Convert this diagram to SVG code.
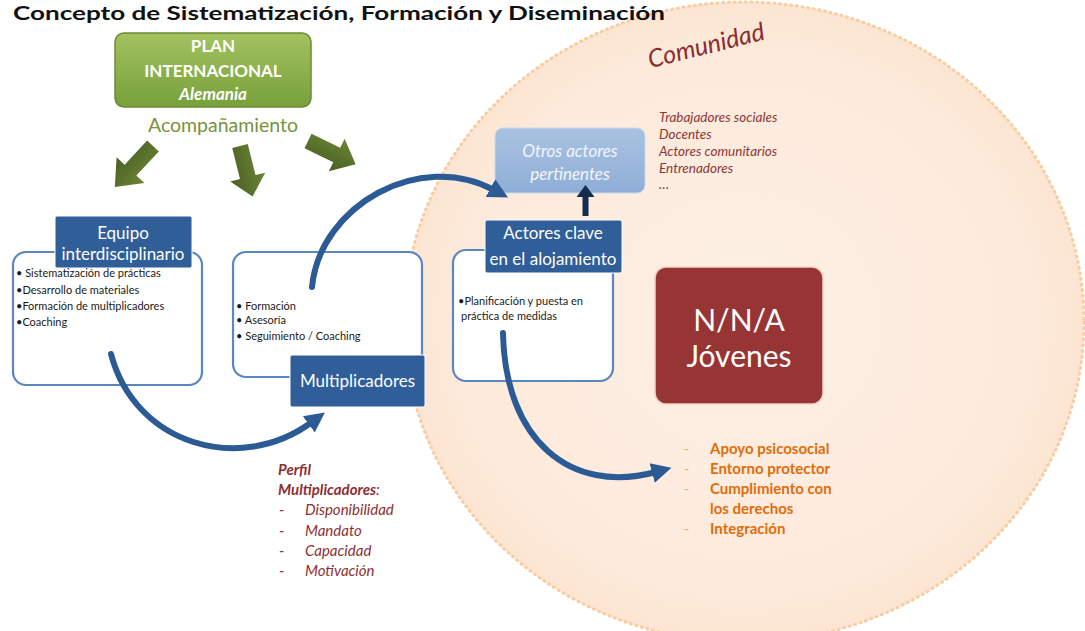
<svg xmlns="http://www.w3.org/2000/svg" width="1085" height="631" viewBox="0 0 1085 631">
<defs>
<style>
text{font-family:Lato,"Open Sans","Liberation Sans",sans-serif}
.bul{font-size:11px;fill:#1a1a1a}
.wt{fill:#ffffff;text-anchor:middle}
.frame{fill:#ffffff;stroke:#5b86bf;stroke-width:2.2}
.dbox{fill:#2f5e98;stroke:#ffffff;stroke-width:1}
.curve{fill:none;stroke:#2c5a94;stroke-width:6;stroke-linecap:round}
.comm{font-size:13.5px;font-style:italic;fill:#8e3535}
.or{font-size:15px;font-weight:bold;fill:#e36c0a}
.ordash{font-size:14px;fill:#f2a66a}
.pf{font-size:15px;font-style:italic;fill:#8e2f32}
.garrow{fill:url(#gArr)}
</style>
<radialGradient id="gComm" cx="0.5" cy="0.5" r="0.5">
<stop offset="0" stop-color="#fdf0e5"/>
<stop offset="0.85" stop-color="#fdeadb"/>
<stop offset="1" stop-color="#fce5d2"/>
</radialGradient>
<linearGradient id="gGreen" x1="0" y1="0" x2="0" y2="1">
<stop offset="0" stop-color="#a3c35f"/>
<stop offset="1" stop-color="#77a03a"/>
</linearGradient>
<linearGradient id="gArr" x1="0" y1="0" x2="0" y2="1">
<stop offset="0" stop-color="#6b8535"/>
<stop offset="1" stop-color="#4a5f25"/>
</linearGradient>
<linearGradient id="gOtros" x1="0" y1="0" x2="0" y2="1">
<stop offset="0" stop-color="#a9c2e1"/>
<stop offset="1" stop-color="#8faed6"/>
</linearGradient>
<marker id="mBlue" markerUnits="userSpaceOnUse" markerWidth="22" markerHeight="22" refX="4" refY="10" orient="auto" viewBox="0 0 22 20">
<path d="M0,0 L20,10 L0,20 Z" fill="#2c5a94"/>
</marker>
</defs>

<rect width="1085" height="631" fill="#ffffff"/>

<g id="comunidad">
<ellipse cx="744" cy="322" rx="340" ry="320" fill="url(#gComm)" stroke="#f8cda2" stroke-width="3" stroke-dasharray="1.2 4.5" stroke-linecap="round"/>
<text x="706" y="54" transform="rotate(-14 706 45)" text-anchor="middle" font-size="25" font-style="italic" fill="#8b2c2e">Comunidad</text>
</g>

<text id="title" x="13" y="20" font-size="19" font-weight="bold" fill="#111" textLength="652" lengthAdjust="spacingAndGlyphs">Concepto de Sistematización, Formación y Diseminación</text>

<g id="plan">
<rect x="115" y="33" width="196" height="74" rx="9" fill="url(#gGreen)" stroke="#6c8a3a" stroke-width="1.5"/>
<text class="wt" x="213" y="52" font-size="17" font-weight="bold">PLAN</text>
<text class="wt" x="213" y="77" font-size="17" font-weight="bold">INTERNACIONAL</text>
<text class="wt" x="213" y="100" font-size="17" font-weight="bold" font-style="italic">Alemania</text>
<text x="223" y="132" text-anchor="middle" font-size="19.5" fill="#77933c">Acompañamiento</text>
</g>

<g id="green-arrows">
<polygon class="garrow" points="0,-8 33,-8 33,-19 56,0 33,19 33,8 0,8" transform="translate(153,146) rotate(133)"/>
<polygon class="garrow" points="0,-8 32,-8 32,-18 52,0 32,18 32,8 0,8" transform="translate(240,146) rotate(76)"/>
<polygon class="garrow" points="0,-8 32,-8 32,-18 53,0 32,18 32,8 0,8" transform="translate(308,141) rotate(26)"/>
</g>

<g id="equipo">
<rect class="frame" x="13" y="252" width="189" height="133" rx="13"/>
<rect class="dbox" x="55" y="216" width="137" height="52" rx="2"/>
<text class="wt" x="123" y="239" font-size="17">Equipo</text>
<text class="wt" x="123" y="260" font-size="17">interdisciplinario</text>
<text class="bul" x="16" y="277">• Sistematización de prácticas</text>
<text class="bul" x="16" y="294">•Desarrollo de materiales</text>
<text class="bul" x="16" y="310">•Formación de multiplicadores</text>
<text class="bul" x="16" y="326">•Coaching</text>
</g>

<g id="multiplicadores">
<rect class="frame" x="233" y="252" width="189" height="125" rx="13"/>
<text class="bul" x="236" y="310">• Formación</text>
<text class="bul" x="236" y="324">• Asesoría</text>
<text class="bul" x="236" y="340">• Seguimiento / Coaching</text>
<rect class="dbox" x="290" y="355" width="135" height="52" rx="2"/>
<text class="wt" x="357.5" y="387" font-size="17">Multiplicadores</text>
</g>

<g id="actores-clave">
<rect class="frame" x="453" y="250" width="160" height="131" rx="13"/>
<rect class="dbox" x="485" y="220" width="137" height="53" rx="2"/>
<text class="wt" x="553" y="239" font-size="17">Actores clave</text>
<text class="wt" x="553" y="265" font-size="17">en el alojamiento</text>
<text class="bul" x="458" y="305">•Planificación y puesta en</text>
<text class="bul" x="461" y="320">práctica de medidas</text>
</g>

<g id="otros-actores">
<rect x="495" y="128" width="150" height="65" rx="8" fill="url(#gOtros)" stroke="#c9d8ec" stroke-width="1"/>
<text x="570" y="157" text-anchor="middle" font-size="17" font-style="italic" fill="#f2f6fb">Otros actores</text>
<text x="570" y="180" text-anchor="middle" font-size="17" font-style="italic" fill="#f2f6fb">pertinentes</text>
</g>

<g id="lista-comunidad">
<text class="comm" x="659" y="122">Trabajadores sociales</text>
<text class="comm" x="659" y="139">Docentes</text>
<text class="comm" x="659" y="156">Actores comunitarios</text>
<text class="comm" x="659" y="173">Entrenadores</text>
<text class="comm" x="659" y="189">…</text>
</g>

<g id="nna">
<rect x="655" y="267" width="168" height="137" rx="11" fill="#973434" stroke="#f3d2c6" stroke-width="1.5"/>
<text class="wt" x="739" y="331" font-size="30">N/N/A</text>
<text class="wt" x="739" y="367" font-size="30">Jóvenes</text>
</g>

<g id="resultados">
<text class="ordash" x="684" y="454">-</text>
<text class="ordash" x="684" y="474">-</text>
<text class="ordash" x="684" y="494">-</text>
<text class="ordash" x="684" y="534">-</text>
<text class="or" x="710" y="454">Apoyo psicosocial</text>
<text class="or" x="710" y="474">Entorno protector</text>
<text class="or" x="710" y="494">Cumplimiento con</text>
<text class="or" x="710" y="514">los derechos</text>
<text class="or" x="710" y="534">Integración</text>
</g>

<g id="perfil">
<text class="pf" x="278" y="475" font-weight="bold">Perfil</text>
<text class="pf" x="278" y="495"><tspan font-weight="bold">Multiplicadores</tspan>:</text>
<text class="pf" x="279" y="515">-</text>
<text class="pf" x="279" y="536">-</text>
<text class="pf" x="279" y="556">-</text>
<text class="pf" x="279" y="576">-</text>
<text class="pf" x="305" y="515">Disponibilidad</text>
<text class="pf" x="305" y="536">Mandato</text>
<text class="pf" x="305" y="556">Capacidad</text>
<text class="pf" x="305" y="576">Motivación</text>
</g>

<g id="connectors">
<path class="curve" d="M111,354 C 135,445 240,475 312,422" marker-end="url(#mBlue)"/>
<path class="curve" d="M312,287 C 320,205 420,150 494,190" marker-end="url(#mBlue)"/>
<path class="curve" d="M503,333 C 505,440 570,495 656,472" marker-end="url(#mBlue)"/>
<rect x="582.5" y="196" width="6" height="20" fill="#132d4f"/>
<polygon points="576.5,197 594.5,197 585.5,185" fill="#132d4f"/>
</g>
</svg>
